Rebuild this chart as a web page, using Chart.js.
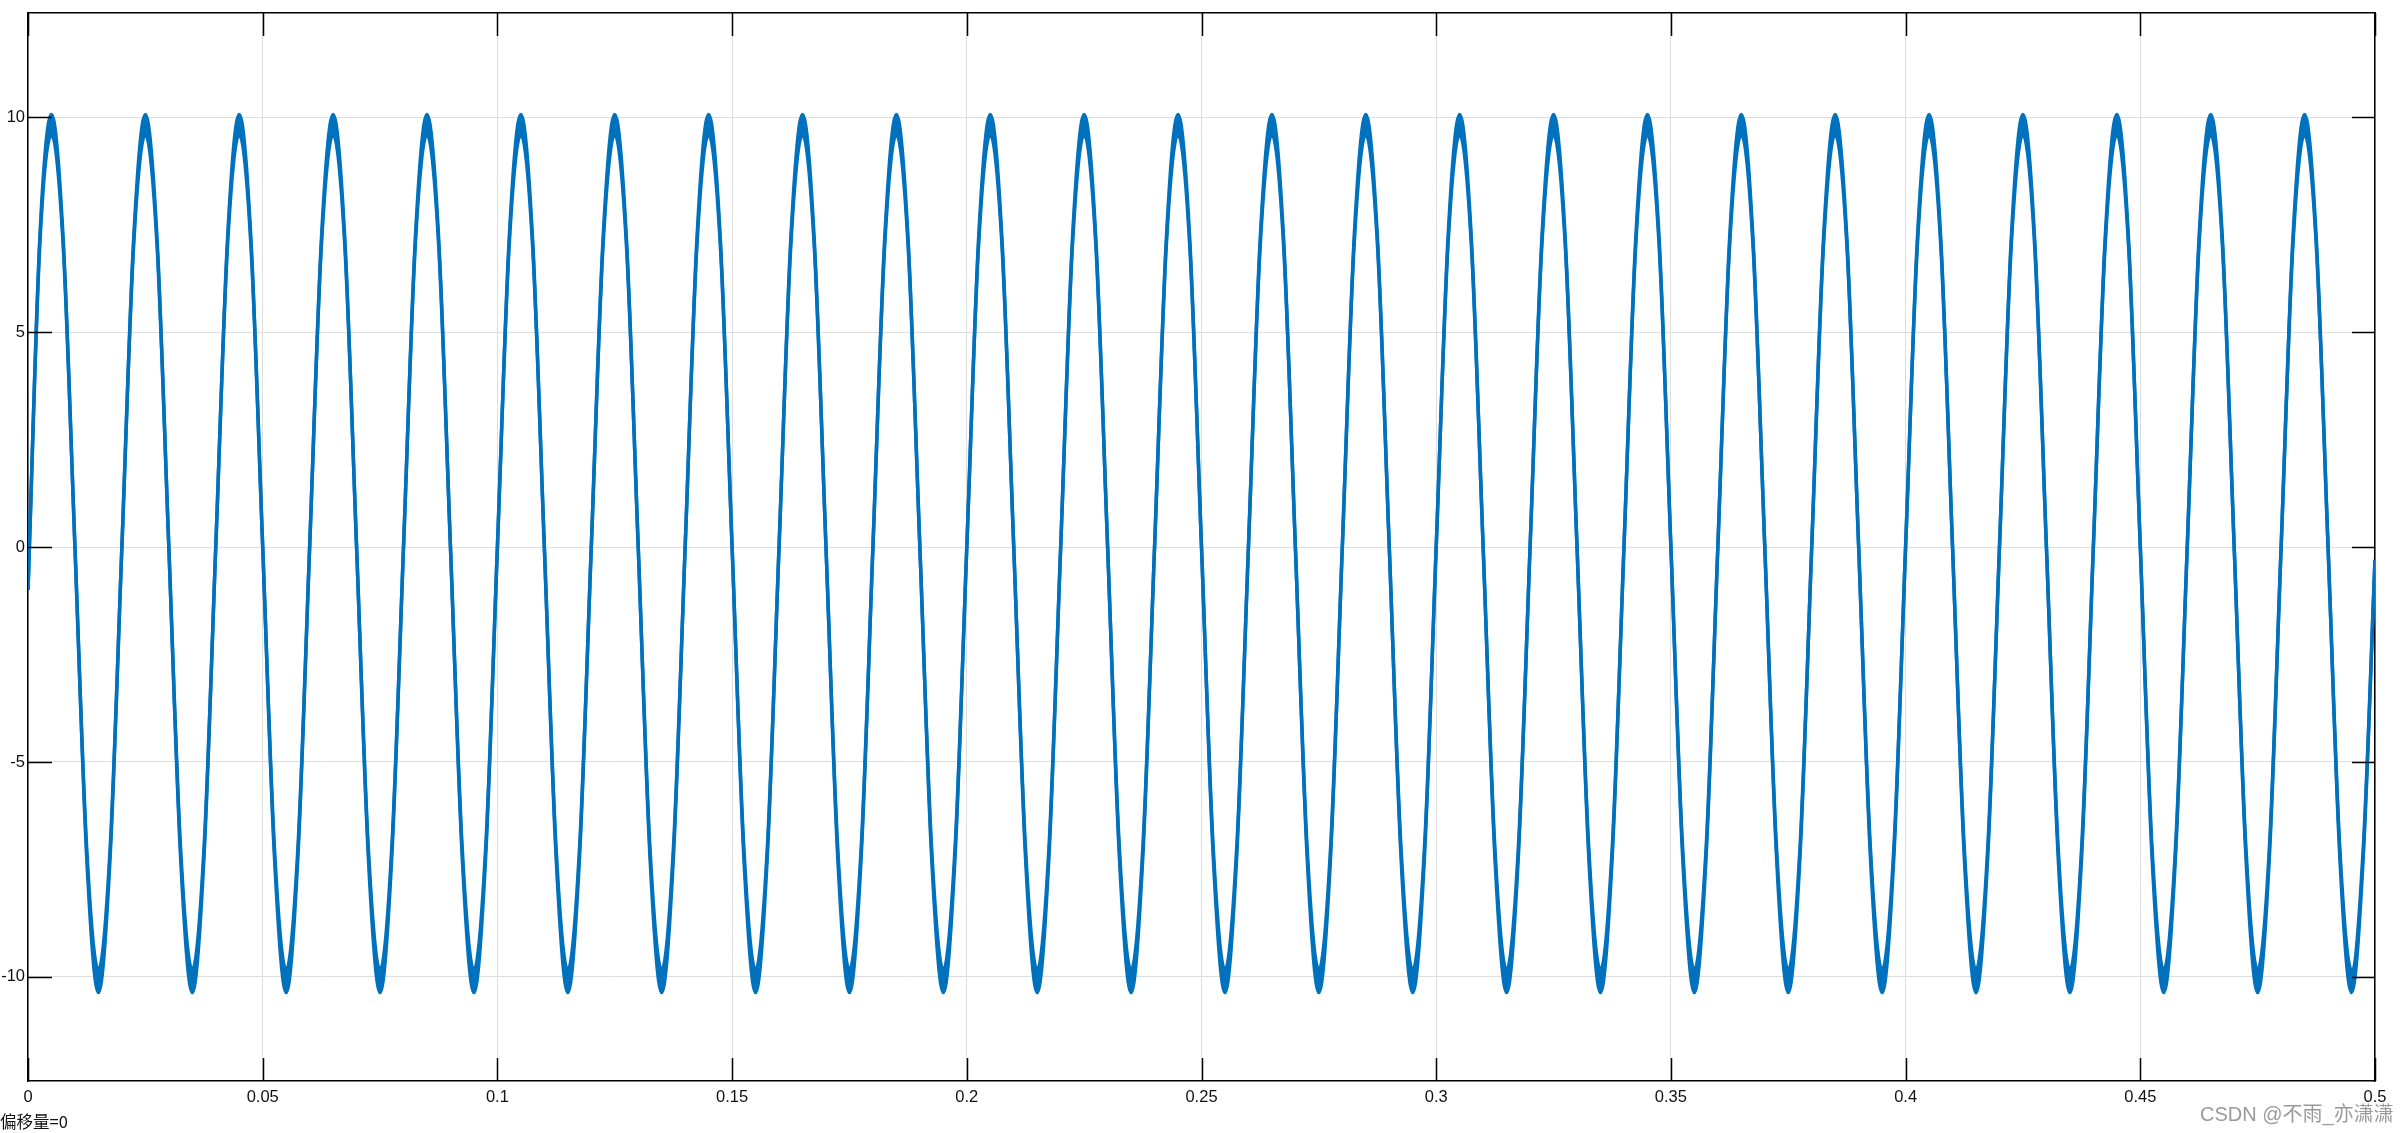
<!DOCTYPE html>
<html lang="zh-CN">
<head>
    <meta charset="UTF-8">
    <title>偏移量=0</title>
    <script src="https://cdn.jsdelivr.net/npm/chart.js"></script>
    <style>
        html, body { margin: 0; padding: 0; background: #fff; overflow: hidden; }
        #wrap { position: relative; width: 2400px; height: 1133px; }
        #nota { position: absolute; left: 0; top: 1112px; font: 16.5px "Noto Sans CJK SC", "Liberation Sans", sans-serif; line-height: 18px; color: #111; }
        #marca { position: absolute; left: 2200px; top: 1102px; font: 20px "Liberation Sans", "Noto Sans CJK SC", sans-serif; line-height: 24px; color: #9a9a9a; }
    </style>
</head>
<body>
<div id="wrap">
    <canvas id="grafico"></canvas>
    <div id="nota">偏移量=0</div>
    <div id="marca">CSDN @不雨_亦潇潇</div>
</div>
<script>
    // tempo (s), pontos a cada 1/8 de periodo
    const tempo = [
        0, 0.0025, 0.005, 0.0075, 0.01, 0.0125, 0.015, 0.0175,
        0.02, 0.0225, 0.025, 0.0275, 0.03, 0.0325, 0.035, 0.0375,
        0.04, 0.0425, 0.045, 0.0475, 0.05, 0.0525, 0.055, 0.0575,
        0.06, 0.0625, 0.065, 0.0675, 0.07, 0.0725, 0.075, 0.0775,
        0.08, 0.0825, 0.085, 0.0875, 0.09, 0.0925, 0.095, 0.0975,
        0.1, 0.1025, 0.105, 0.1075, 0.11, 0.1125, 0.115, 0.1175,
        0.12, 0.1225, 0.125, 0.1275, 0.13, 0.1325, 0.135, 0.1375,
        0.14, 0.1425, 0.145, 0.1475, 0.15, 0.1525, 0.155, 0.1575,
        0.16, 0.1625, 0.165, 0.1675, 0.17, 0.1725, 0.175, 0.1775,
        0.18, 0.1825, 0.185, 0.1875, 0.19, 0.1925, 0.195, 0.1975,
        0.2, 0.2025, 0.205, 0.2075, 0.21, 0.2125, 0.215, 0.2175,
        0.22, 0.2225, 0.225, 0.2275, 0.23, 0.2325, 0.235, 0.2375,
        0.24, 0.2425, 0.245, 0.2475, 0.25, 0.2525, 0.255, 0.2575,
        0.26, 0.2625, 0.265, 0.2675, 0.27, 0.2725, 0.275, 0.2775,
        0.28, 0.2825, 0.285, 0.2875, 0.29, 0.2925, 0.295, 0.2975,
        0.3, 0.3025, 0.305, 0.3075, 0.31, 0.3125, 0.315, 0.3175,
        0.32, 0.3225, 0.325, 0.3275, 0.33, 0.3325, 0.335, 0.3375,
        0.34, 0.3425, 0.345, 0.3475, 0.35, 0.3525, 0.355, 0.3575,
        0.36, 0.3625, 0.365, 0.3675, 0.37, 0.3725, 0.375, 0.3775,
        0.38, 0.3825, 0.385, 0.3875, 0.39, 0.3925, 0.395, 0.3975,
        0.4, 0.4025, 0.405, 0.4075, 0.41, 0.4125, 0.415, 0.4175,
        0.42, 0.4225, 0.425, 0.4275, 0.43, 0.4325, 0.435, 0.4375,
        0.44, 0.4425, 0.445, 0.4475, 0.45, 0.4525, 0.455, 0.4575,
        0.46, 0.4625, 0.465, 0.4675, 0.47, 0.4725, 0.475, 0.4775,
        0.48, 0.4825, 0.485, 0.4875, 0.49, 0.4925, 0.495, 0.4975,
        0.5
    ];

    // borda superior da faixa (ondulacao)
    const sinalSuperior = [
        -1.0, 7.15, 10.06, 7.15, 0, -7.0, -9.85, -7.0,
        0, 7.15, 10.06, 7.15, 0, -7.0, -9.85, -7.0,
        0, 7.15, 10.06, 7.15, 0, -7.0, -9.85, -7.0,
        0, 7.15, 10.06, 7.15, 0, -7.0, -9.85, -7.0,
        0, 7.15, 10.06, 7.15, 0, -7.0, -9.85, -7.0,
        0, 7.15, 10.06, 7.15, 0, -7.0, -9.85, -7.0,
        0, 7.15, 10.06, 7.15, 0, -7.0, -9.85, -7.0,
        0, 7.15, 10.06, 7.15, 0, -7.0, -9.85, -7.0,
        0, 7.15, 10.06, 7.15, 0, -7.0, -9.85, -7.0,
        0, 7.15, 10.06, 7.15, 0, -7.0, -9.85, -7.0,
        0, 7.15, 10.06, 7.15, 0, -7.0, -9.85, -7.0,
        0, 7.15, 10.06, 7.15, 0, -7.0, -9.85, -7.0,
        0, 7.15, 10.06, 7.15, 0, -7.0, -9.85, -7.0,
        0, 7.15, 10.06, 7.15, 0, -7.0, -9.85, -7.0,
        0, 7.15, 10.06, 7.15, 0, -7.0, -9.85, -7.0,
        0, 7.15, 10.06, 7.15, 0, -7.0, -9.85, -7.0,
        0, 7.15, 10.06, 7.15, 0, -7.0, -9.85, -7.0,
        0, 7.15, 10.06, 7.15, 0, -7.0, -9.85, -7.0,
        0, 7.15, 10.06, 7.15, 0, -7.0, -9.85, -7.0,
        0, 7.15, 10.06, 7.15, 0, -7.0, -9.85, -7.0,
        0, 7.15, 10.06, 7.15, 0, -7.0, -9.85, -7.0,
        0, 7.15, 10.06, 7.15, 0, -7.0, -9.85, -7.0,
        0, 7.15, 10.06, 7.15, 0, -7.0, -9.85, -7.0,
        0, 7.15, 10.06, 7.15, 0, -7.0, -9.85, -7.0,
        0, 7.15, 10.06, 7.15, 0, -7.0, -9.85, -7.0,
        -0.3
    ];

    // borda inferior da faixa
    const sinalInferior = [
        -1.0, 7.0, 9.6, 7.0, 0, -7.2, -10.36, -7.2,
        0, 7.0, 9.6, 7.0, 0, -7.2, -10.36, -7.2,
        0, 7.0, 9.6, 7.0, 0, -7.2, -10.36, -7.2,
        0, 7.0, 9.6, 7.0, 0, -7.2, -10.36, -7.2,
        0, 7.0, 9.6, 7.0, 0, -7.2, -10.36, -7.2,
        0, 7.0, 9.6, 7.0, 0, -7.2, -10.36, -7.2,
        0, 7.0, 9.6, 7.0, 0, -7.2, -10.36, -7.2,
        0, 7.0, 9.6, 7.0, 0, -7.2, -10.36, -7.2,
        0, 7.0, 9.6, 7.0, 0, -7.2, -10.36, -7.2,
        0, 7.0, 9.6, 7.0, 0, -7.2, -10.36, -7.2,
        0, 7.0, 9.6, 7.0, 0, -7.2, -10.36, -7.2,
        0, 7.0, 9.6, 7.0, 0, -7.2, -10.36, -7.2,
        0, 7.0, 9.6, 7.0, 0, -7.2, -10.36, -7.2,
        0, 7.0, 9.6, 7.0, 0, -7.2, -10.36, -7.2,
        0, 7.0, 9.6, 7.0, 0, -7.2, -10.36, -7.2,
        0, 7.0, 9.6, 7.0, 0, -7.2, -10.36, -7.2,
        0, 7.0, 9.6, 7.0, 0, -7.2, -10.36, -7.2,
        0, 7.0, 9.6, 7.0, 0, -7.2, -10.36, -7.2,
        0, 7.0, 9.6, 7.0, 0, -7.2, -10.36, -7.2,
        0, 7.0, 9.6, 7.0, 0, -7.2, -10.36, -7.2,
        0, 7.0, 9.6, 7.0, 0, -7.2, -10.36, -7.2,
        0, 7.0, 9.6, 7.0, 0, -7.2, -10.36, -7.2,
        0, 7.0, 9.6, 7.0, 0, -7.2, -10.36, -7.2,
        0, 7.0, 9.6, 7.0, 0, -7.2, -10.36, -7.2,
        0, 7.0, 9.6, 7.0, 0, -7.2, -10.36, -7.2,
        -0.3
    ];

    const ticksX = [0, 0.05, 0.1, 0.15, 0.2, 0.25, 0.3, 0.35, 0.4, 0.45, 0.5];
    const rotulosX = ['0', '0.05', '0.1', '0.15', '0.2', '0.25', '0.3', '0.35', '0.4', '0.45', '0.5'];
    const ticksY = [-10, -5, 0, 5, 10];
    const rotulosY = ['-10', '-5', '0', '5', '10'];

    const azul = '#0072BD';
    const limiteY = 12.42;

    const canvas = document.getElementById('grafico');

    Chart.defaults.font.family = '"Liberation Sans", Arial, sans-serif';
    Chart.defaults.font.size = 16.5;
    Chart.defaults.color = '#111';

    // marcas de escala para dentro, nos quatro lados
    const marcasInternas = {
        id: 'marcasInternas',
        afterDatasetsDraw(chart) {
            const { ctx, chartArea: a, scales: { x, y } } = chart;
            ctx.save();
            ctx.strokeStyle = '#000';
            ctx.lineWidth = 1.5;
            ctx.beginPath();
            ticksX.forEach(v => {
                const px = Math.round(x.getPixelForValue(v)) + 0.5;
                ctx.moveTo(px, a.bottom); ctx.lineTo(px, a.bottom - 23);
                ctx.moveTo(px, a.top); ctx.lineTo(px, a.top + 23);
            });
            ticksY.forEach(v => {
                const py = Math.round(y.getPixelForValue(v)) + 0.5;
                ctx.moveTo(a.left, py); ctx.lineTo(a.left + 24, py);
                ctx.moveTo(a.right, py); ctx.lineTo(a.right - 23, py);
            });
            ctx.stroke();
            ctx.restore();
        }
    };

    const pontos = serie => tempo.map((t, i) => ({ x: t, y: serie[i] }));

    new Chart(canvas, {
        type: 'line',
        data: {
            datasets: [{
                label: 'superior',
                data: pontos(sinalSuperior),
                borderColor: azul,
                backgroundColor: azul,
                borderWidth: 3.5,
                pointRadius: 0,
                cubicInterpolationMode: 'monotone',
                fill: '+1'
            }, {
                label: 'inferior',
                data: pontos(sinalInferior),
                borderColor: azul,
                borderWidth: 3.5,
                pointRadius: 0,
                cubicInterpolationMode: 'monotone',
                fill: false
            }]
        },
        options: {
            responsive: true,
            maintainAspectRatio: false,
            devicePixelRatio: 1,
            animation: false,
            layout: { padding: 0 },
            plugins: {
                legend: { display: false },
                tooltip: { enabled: false },
                title: { display: false }
            },
            scales: {
                x: {
                    type: 'linear',
                    position: 'bottom',
                    min: 0,
                    max: 0.5,
                    afterBuildTicks: s => { s.ticks = ticksX.map(v => ({ value: v })); },
                    afterFit: s => { s.height = 52; },
                    ticks: {
                        padding: 7,
                        maxRotation: 0,
                        autoSkip: false,
                        callback: (v, i) => rotulosX[i]
                    },
                    grid: { color: '#dedede', lineWidth: 1, drawTicks: false },
                    border: { display: true, color: '#000', width: 1.5 }
                },
                y: {
                    type: 'linear',
                    position: 'left',
                    min: -limiteY,
                    max: limiteY,
                    afterBuildTicks: s => { s.ticks = ticksY.map(v => ({ value: v })); },
                    afterFit: s => { s.width = 28; },
                    ticks: {
                        padding: 3,
                        autoSkip: false,
                        callback: (v, i) => rotulosY[i]
                    },
                    grid: { color: '#dedede', lineWidth: 1, drawTicks: false },
                    border: { display: true, color: '#000', width: 1.5 }
                },
                xTopo: {
                    type: 'linear',
                    position: 'top',
                    min: 0,
                    max: 0.5,
                    afterFit: s => { s.height = 13; },
                    ticks: { display: false },
                    grid: { display: false, drawTicks: false },
                    border: { display: true, color: '#000', width: 1.5 }
                },
                yDireita: {
                    type: 'linear',
                    position: 'right',
                    min: -limiteY,
                    max: limiteY,
                    afterFit: s => { s.width = 25; },
                    ticks: { display: false },
                    grid: { display: false, drawTicks: false },
                    border: { display: true, color: '#000', width: 1.5 }
                }
            }
        },
        plugins: [marcasInternas]
    });
</script>
</body>
</html>
